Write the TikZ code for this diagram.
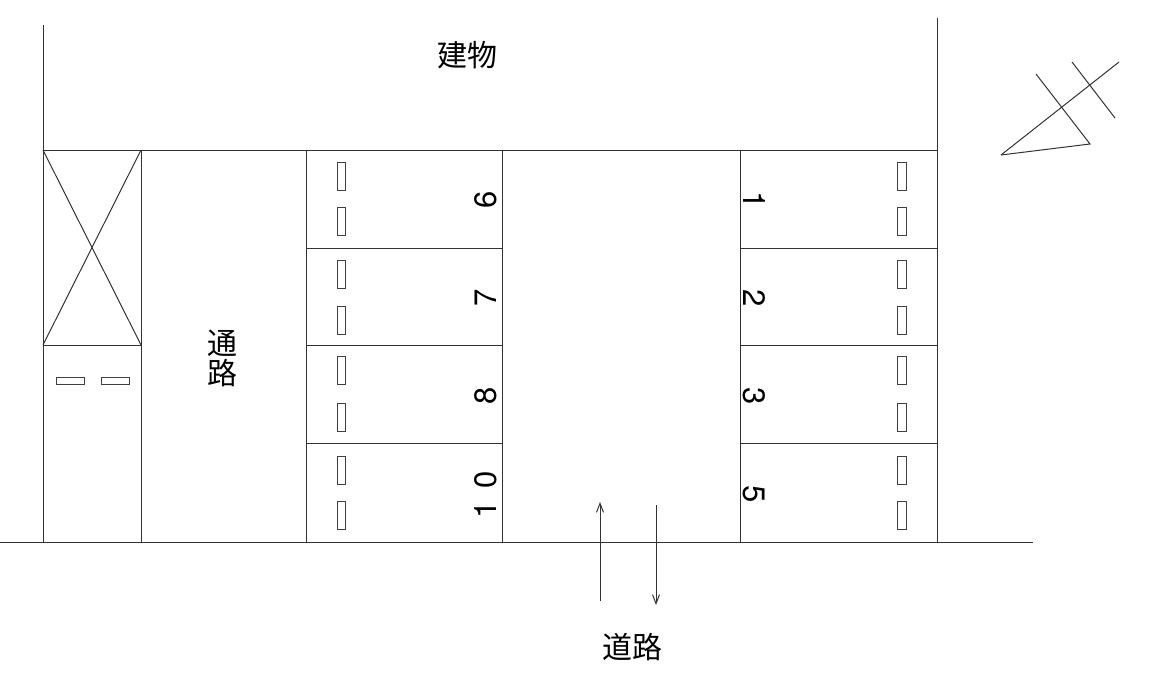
\documentclass[tikz,border=0pt]{standalone}
\usepackage{fontspec}
\setmainfont{TeX Gyre Heros}
\newfontfamily\cjk{Noto Sans CJK JP}
\usetikzlibrary{arrows.meta}
\tikzset{
  plan/.style={line width=1pt,draw=black!80},
  stall/.style={line width=1pt,draw=black!75,fill=white},
  jp/.style={font=\cjk\fontsize{30}{31}\selectfont,inner sep=0pt},
  numL/.style={font=\fontsize{31}{32}\selectfont,inner sep=0pt,rotate=90},
  numR/.style={font=\fontsize{31}{32}\selectfont,inner sep=0pt,rotate=-90},
  flow/.style={line width=1pt,draw=black!80,-{Straight Barb[length=9pt,width=7pt]}}
}
\begin{document}
\begin{tikzpicture}[x=1pt,y=-1pt]
\useasboundingbox (0,0) rectangle (1168,685);
% walls and ground
\draw[plan] (43,25) -- (43,542);
\draw[plan] (937,18) -- (937,542);
\draw[plan] (43,150) -- (937,150);
\draw[plan] (0,542) -- (1033,542);
\foreach \x in {141,306,502,740} \draw[plan] (\x,150) -- (\x,542);
\foreach \y in {248,345,443} {
  \draw[plan] (306,\y) -- (502,\y);
  \draw[plan] (740,\y) -- (937,\y);
}
% crossed box
\draw[plan] (43,345) -- (141,345);
\draw[plan] (43,150) -- (141,345);
\draw[plan] (141,150) -- (43,345);
% wheel stops
\foreach \y in {162,207,260,306,356,403,456,501} {
  \draw[stall] (337,\y) rectangle (345,\y+28);
  \draw[stall] (897,\y) rectangle (906,\y+28);
}
\draw[stall] (56,377) rectangle (84,384);
\draw[stall] (101,377) rectangle (129,384);
% compass
\draw[plan] (1001,155) -- (1119,62);
\draw[plan] (1001,155) -- (1090,144) -- (1036,74);
\draw[plan] (1072,62) -- (1115,118);
% arrows
\coordinate (upS) at (600,601);
\coordinate (upE) at (600,502);
\coordinate (dnS) at (656,505);
\coordinate (dnE) at (656,605);
\draw[flow] (upS) -- (upE);
\draw[flow] (dnS) -- (dnE);
% labels
\node[jp] (bldg) at (467,55) {建物};
\node[jp] (pass1) at (222,343) {通};
\node[jp] (pass2) at (222,373) {路};
\node[jp] (road) at (632,647) {道路};
\node[numL] (n6) at (486,200) {6};
\node[numL] (n7) at (486,298) {7};
\node[numL] (n8) at (486,396) {8};
\node[numL] (n10) at (486,495) {1\hspace{12.8pt}0};
\node[numR] (n1) at (754,200) {1};
\node[numR] (n2) at (754,298) {2};
\node[numR] (n3) at (754,396) {3};
\node[numR] (n5) at (754,494) {5};
\end{tikzpicture}
\end{document}
